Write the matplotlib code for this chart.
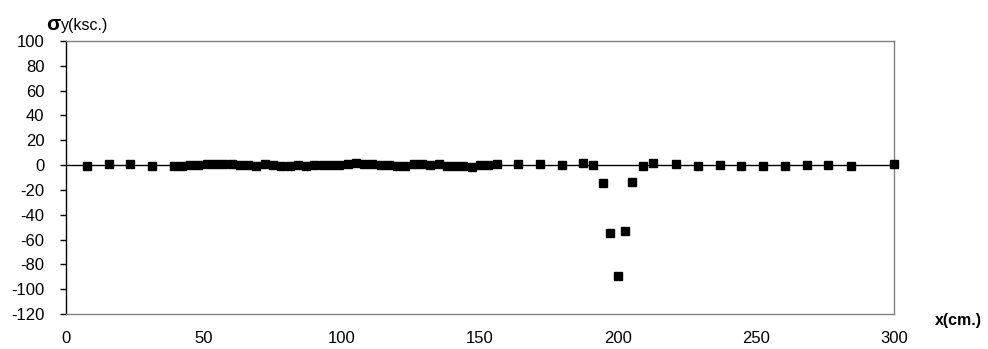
import matplotlib
matplotlib.use("Agg")
import matplotlib.pyplot as plt

plt.rcParams['font.family'] = ['Liberation Sans', 'DejaVu Sans']
plt.rcParams['axes.unicode_minus'] = False

# measurement positions along the beam (cm) and normal stress sigma_y (ksc.)
x_cm = [7.6, 15.6, 23.2, 31.2,
        39, 42, 45, 48, 51, 54, 57, 60, 63, 66, 69, 72, 75, 78, 81, 84,
        87, 90, 93, 96, 99, 102, 105, 108, 111, 114, 117, 120, 123, 126,
        129, 132, 135, 138, 141, 144, 147, 150, 153, 156,
        163.8, 171.7, 179.7, 187.3, 191, 194.6, 197.1, 200, 202.5, 205,
        209, 212.7, 221, 229, 237, 244.6, 252.5, 260.5, 268.5, 276, 284.4, 300]
sigma_y = [-0.5, 0.8, 0.9, -0.4,
           -0.6, -0.5, -0.3, 0.2, 0.8, 1.0, 0.9, 0.6, 0.3, -0.2, -0.4, 0.6,
           0.2, -0.4, -0.5, -0.3, -0.4, -0.2, -0.3, -0.3, 0.2, 0.8, 1.8, 1.2,
           0.6, 0.4, -0.2, -0.6, -0.4, 0.5, 0.6, 0.4, 0.5, -0.4, -0.6, -0.5,
           -1.5, -0.3, 0.4, 0.8,
           0.6, 0.5, 0.3, 1.8, 0.4, -14.5, -54.8, -89.4, -53.2, -13.7,
           -0.4, 1.4, 0.5, -0.6, 0.4, -0.5, -0.5, -0.6, 0.4, 0.4, -0.5, 1.2]

x_ticks = [0, 50, 100, 150, 200, 250, 300]
y_ticks = [100, 80, 60, 40, 20, 0, -20, -40, -60, -80, -100, -120]

fig = plt.figure(figsize=(9.88, 3.49), dpi=100)
ax = fig.add_axes([66 / 988, 1 - 314 / 349, (894 - 66) / 988, (314 - 41) / 349])

ax.axhline(0, color='black', lw=1.0, zorder=2)
ax.plot(x_cm, sigma_y, linestyle='none', marker='s', markersize=6.0,
        color='black', zorder=3, clip_on=False)

ax.set_xlim(0, 300)
ax.set_ylim(-120, 100)
ax.set_xticks(x_ticks)
ax.set_yticks(y_ticks)
ax.tick_params(axis='x', length=0, pad=12, labelsize=12)
ax.tick_params(axis='y', direction='out', length=4.5, width=1, pad=11,
               labelsize=12, color='black')

for side in ('top', 'right', 'bottom'):
    ax.spines[side].set_color('#808080')
    ax.spines[side].set_linewidth(1.0)
ax.spines['left'].set_color('black')
ax.spines['left'].set_linewidth(1.0)

fig.text(46 / 988, 1 - 30 / 349, 'σ', fontsize=15, fontweight='bold',
         ha='left', va='baseline')
fig.text(61 / 988, 1 - 30 / 349, 'y(ksc.)', fontsize=11.5,
         ha='left', va='baseline')
fig.text(958 / 988, 1 - 320 / 349, 'x(cm.)', fontsize=11.5, fontweight='bold',
         ha='center', va='center')

fig.savefig('out.png', dpi=100, facecolor='white')
